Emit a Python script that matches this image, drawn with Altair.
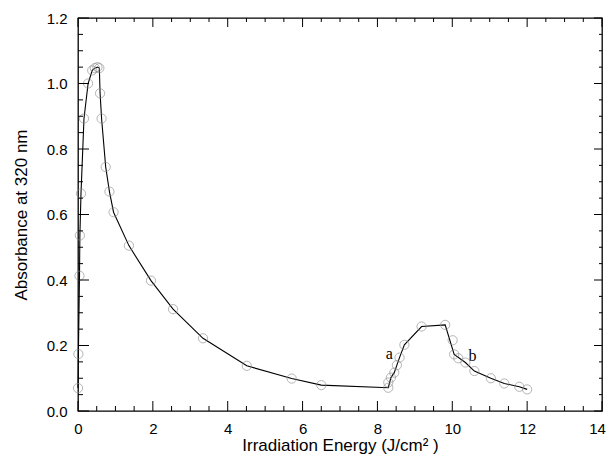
import altair as alt
import pandas as pd
import numpy as np

# data
energy = [0.0, 0.01, 0.04, 0.05, 0.08, 0.16, 0.27, 0.38, 0.45, 0.52, 0.57, 0.59, 0.63,
          0.74, 0.84, 0.95, 1.36, 1.95, 2.54, 3.34, 4.51, 5.71, 6.5,
          8.29, 8.29, 8.36, 8.45, 8.52, 8.59, 8.72, 9.18, 9.81, 10.01, 10.05, 10.16,
          10.35, 10.59, 11.03, 11.39, 11.79, 12.0]
absorb = [0.07, 0.174, 0.413, 0.536, 0.664, 0.893, 1.0, 1.04, 1.047, 1.05, 1.047, 0.97, 0.893,
          0.745, 0.67, 0.607, 0.505, 0.398, 0.311, 0.222, 0.138, 0.099, 0.079,
          0.071, 0.087, 0.102, 0.117, 0.14, 0.163, 0.202, 0.258, 0.263, 0.216, 0.173, 0.161,
          0.148, 0.122, 0.1, 0.084, 0.074, 0.066]
# line path (through the points)
line_x = [0.0, 0.01, 0.04, 0.05, 0.08, 0.16, 0.27, 0.38, 0.45, 0.52, 0.57, 0.59, 0.63,
          0.74, 0.84, 0.95, 1.36, 1.95, 2.54, 3.34, 4.51, 5.71, 6.5, 8.29,
          8.36, 8.45, 8.52, 8.59, 8.72, 9.18, 9.81, 10.05,
          10.35, 10.59, 11.03, 11.39, 11.79, 12.0]
line_y = [0.07, 0.174, 0.413, 0.536, 0.664, 0.893, 1.0, 1.04, 1.047, 1.05, 1.047, 0.97, 0.893,
          0.745, 0.67, 0.607, 0.505, 0.398, 0.311, 0.222, 0.138, 0.099, 0.079, 0.071,
          0.102, 0.117, 0.14, 0.163, 0.202, 0.258, 0.263, 0.173,
          0.148, 0.122, 0.1, 0.084, 0.074, 0.066]
label_text = ["a", "b"]
label_x = [8.32, 10.54]
label_y = [0.175, 0.168]

x_major = [0, 2, 4, 6, 8, 10, 12, 14]
x_minor = [v for v in np.arange(0, 14.01, 0.5).round(2).tolist() if v not in x_major]
y_major = [0.0, 0.2, 0.4, 0.6, 0.8, 1.0, 1.2]
y_minor = [v for v in np.arange(0, 1.201, 0.05).round(2).tolist() if round(v / 0.2, 6) % 1 != 0]

W, H = 524, 393
FONT = "Liberation Sans"

xs = alt.Scale(domain=[0, 14], nice=False)
ys = alt.Scale(domain=[0, 1.2], nice=False)

pts = pd.DataFrame({"x": energy, "y": absorb})
ln = pd.DataFrame({"x": line_x, "y": line_y, "o": range(len(line_x))})
lab = pd.DataFrame({"x": label_x, "y": label_y, "t": label_text})

base_x = alt.X("x:Q", scale=xs, axis=alt.Axis(
    title="Irradiation Energy (J/cm² )", values=x_major, ticks=False, labelFlush=False,
    labelOffset=alt.ExprRef("datum.value == 14 ? -5 : 0"),
    domain=False, grid=False, labelFontSize=15, titleFontSize=17, labelFont=FONT,
    titleFont=FONT, titleFontWeight="normal", labelColor="black", titleColor="black",
    labelPadding=10, titlePadding=1))
base_y = alt.Y("y:Q", scale=ys, axis=alt.Axis(
    title="Absorbance at 320 nm", values=y_major, format=".1f", ticks=False,
    labelFlush=False,
    domain=False, grid=False, labelFontSize=15, titleFontSize=17, labelFont=FONT,
    titleFont=FONT, titleFontWeight="normal", labelColor="black", titleColor="black",
    labelPadding=11, titlePadding=16))

line = alt.Chart(ln).mark_line(color="black", strokeWidth=1.1).encode(
    x=base_x, y=base_y, order="o:Q")
circles = alt.Chart(pts).mark_point(shape="circle", filled=False, size=85,
                                    color="#8a8a8a", strokeWidth=0.9).encode(
    x=alt.X("x:Q", scale=xs), y=alt.Y("y:Q", scale=ys))
texts = alt.Chart(lab).mark_text(font="Liberation Serif", fontSize=16, color="black").encode(
    x=alt.X("x:Q", scale=xs), y=alt.Y("y:Q", scale=ys), text="t:N")


def xticks(vals, length, top):
    df = pd.DataFrame({"v": vals})
    if top:
        return alt.Chart(df).mark_rule(color="black", strokeWidth=1).encode(
            x=alt.X("v:Q", scale=xs), y=alt.value(0), y2=alt.value(length))
    return alt.Chart(df).mark_rule(color="black", strokeWidth=1).encode(
        x=alt.X("v:Q", scale=xs), y=alt.value(H), y2=alt.value(H - length))


def yticks(vals, length, right):
    df = pd.DataFrame({"v": vals})
    if right:
        return alt.Chart(df).mark_rule(color="black", strokeWidth=1).encode(
            y=alt.Y("v:Q", scale=ys), x=alt.value(W), x2=alt.value(W - length))
    return alt.Chart(df).mark_rule(color="black", strokeWidth=1).encode(
        y=alt.Y("v:Q", scale=ys), x=alt.value(0), x2=alt.value(length))


tick_layers = [
    xticks(x_major, 10, False), xticks(x_minor, 5, False),
    xticks(x_major, 9, True), xticks(x_minor, 4, True),
    yticks(y_major, 11, False), yticks(y_minor, 5, False),
    yticks(y_major, 8, True), yticks(y_minor, 3, True),
]

chart = alt.layer(line, circles, texts, *tick_layers).properties(
    width=W, height=H,
    autosize=alt.AutoSizeParams(type="none"),
    padding={"left": 70, "top": 10, "right": 4, "bottom": 43},
    background="white",
).configure_view(stroke="black", strokeWidth=1.3)

chart.save("out.html", embed_options={"renderer": "svg", "actions": False})
